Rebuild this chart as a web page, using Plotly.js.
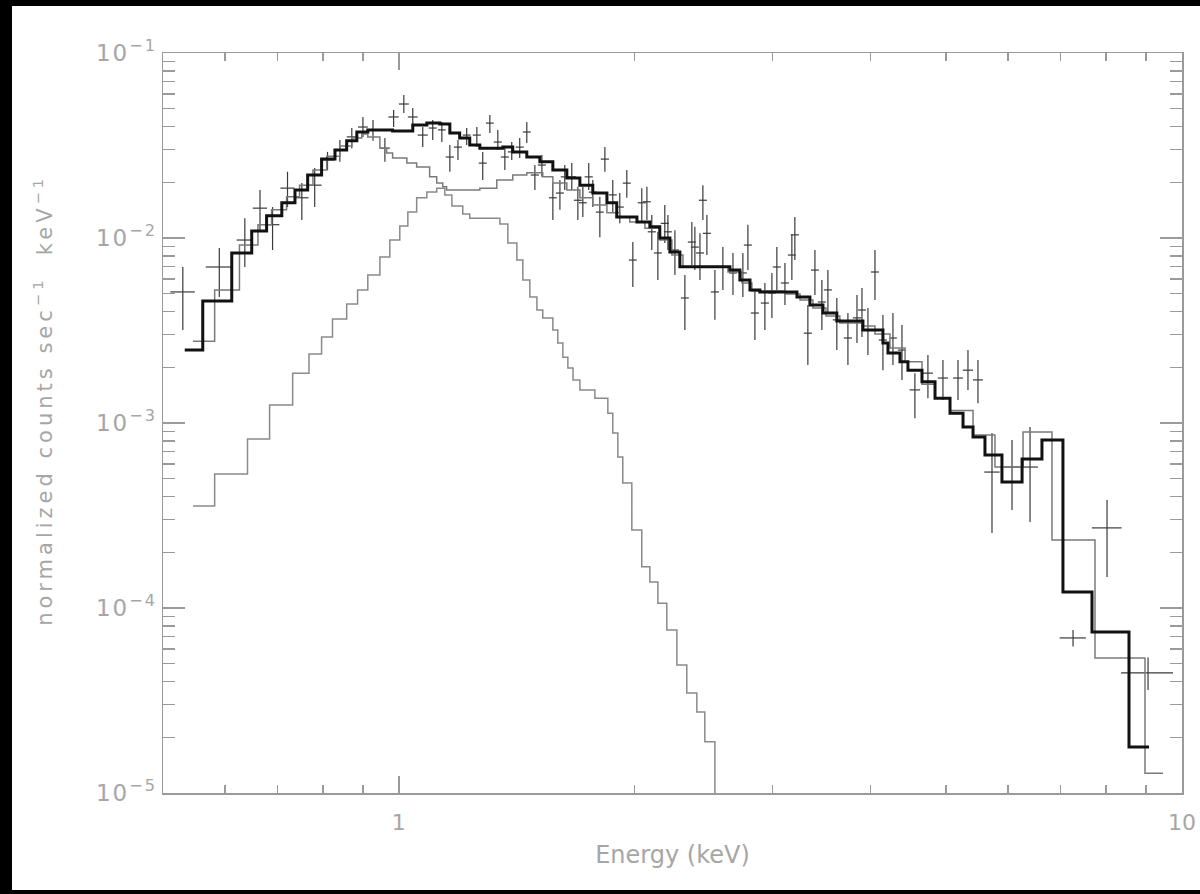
<!DOCTYPE html>
<html><head><meta charset="utf-8">
<script src="https://cdn.plot.ly/plotly-3.0.1.min.js"></script>
<style>
html,body{margin:0;padding:0;background:#000;width:1200px;height:894px;overflow:hidden;}
#chart{position:absolute;left:12px;top:6px;width:1188px;height:884px;background:#fff;}
#chart .annotation-text{letter-spacing:4px;}
#chart .ytick text{letter-spacing:2px;}
</style></head><body><div id="chart"></div>
<script>
// ---- observed spectrum (crosses) ----
const dataEnergy = [0.530,0.590,0.636,0.665,0.690,0.721,0.752,0.781,0.811,0.841,0.871,0.900,0.927,0.960,0.985,1.015,1.042,1.073,1.105,1.135,1.162,1.190,1.221,1.258,1.280,1.307,1.338,1.366,1.394,1.427,1.457,1.492,1.523,1.573,1.606,1.629,1.663,1.693,1.718,1.748,1.769,1.806,1.833,1.876,1.915,1.955,1.990,2.043,2.074,2.104,2.142,2.186,2.206,2.252,2.319,2.367,2.388,2.424,2.445,2.474,2.533,2.593,2.671,2.750,2.791,2.849,2.934,2.995,3.039,3.112,3.176,3.204,3.329,3.399,3.469,3.531,3.625,3.745,3.846,3.903,3.972,4.055,4.151,4.275,4.390,4.560,4.738,4.952,5.176,5.330,5.489,5.720,6.067,6.397,7.259,8.022,9.050];
const dataHalfWidth = [0.019,0.023,0.015,0.014,0.014,0.015,0.015,0.016,0.017,0.015,0.013,0.013,0.014,0.014,0.015,0.015,0.015,0.016,0.013,0.013,0.014,0.014,0.014,0.015,0.015,0.015,0.016,0.016,0.016,0.017,0.017,0.018,0.018,0.018,0.019,0.019,0.020,0.020,0.020,0.021,0.021,0.021,0.022,0.022,0.023,0.023,0.023,0.024,0.024,0.025,0.025,0.026,0.026,0.027,0.027,0.028,0.028,0.029,0.029,0.029,0.030,0.030,0.031,0.032,0.033,0.034,0.035,0.035,0.036,0.037,0.037,0.038,0.040,0.040,0.041,0.042,0.043,0.045,0.046,0.046,0.047,0.048,0.050,0.050,0.052,0.070,0.070,0.075,0.075,0.080,0.080,0.130,0.140,0.150,0.280,0.350,0.690];
const dataRate = [0.00511,0.00697,0.00975,0.0145,0.0118,0.0186,0.0165,0.0193,0.0264,0.0299,0.0352,0.0398,0.0384,0.0306,0.0451,0.0530,0.0451,0.0360,0.0393,0.0384,0.0274,0.0310,0.0360,0.0360,0.0254,0.0418,0.0330,0.0274,0.0292,0.0310,0.0374,0.0219,0.0248,0.0165,0.0175,0.0214,0.0214,0.0160,0.0155,0.0214,0.0177,0.0138,0.0267,0.0171,0.0147,0.0198,0.00760,0.0155,0.0157,0.0108,0.00830,0.0120,0.0108,0.00861,0.00474,0.00951,0.00893,0.00830,0.0160,0.0106,0.00511,0.00697,0.00647,0.00647,0.00916,0.00393,0.00445,0.00505,0.00697,0.00571,0.00809,0.0104,0.00306,0.00671,0.00451,0.00524,0.00361,0.00288,0.00370,0.00408,0.00318,0.00655,0.00281,0.00288,0.00248,0.00151,0.00186,0.00175,0.00175,0.00193,0.00171,0.000543,0.000578,0.000578,6.89e-5,0.000271,4.46e-5];
const dataUpper = [0.00697,0.00883,0.0128,0.0182,0.0147,0.0228,0.0198,0.0239,0.0292,0.0339,0.0393,0.0451,0.0434,0.0347,0.0492,0.0593,0.0505,0.0398,0.0434,0.0424,0.0318,0.0339,0.0393,0.0398,0.0292,0.0462,0.0384,0.0310,0.0330,0.0347,0.0424,0.0248,0.0281,0.0198,0.0206,0.0248,0.0254,0.0189,0.0189,0.0254,0.0206,0.0167,0.0310,0.0206,0.0175,0.0233,0.00951,0.0186,0.0189,0.0133,0.0108,0.0151,0.0133,0.0110,0.00631,0.0122,0.0115,0.0106,0.0193,0.0133,0.00671,0.00893,0.00830,0.00830,0.0118,0.00524,0.00571,0.00647,0.00893,0.00733,0.0104,0.0130,0.00435,0.00861,0.00593,0.00671,0.00474,0.00393,0.00492,0.00537,0.00419,0.00861,0.00384,0.00393,0.00339,0.00186,0.00233,0.00219,0.00219,0.00248,0.00219,0.000883,0.000809,0.000951,7.6e-5,0.000383,5.4e-5];
const dataLower = [0.00318,0.00480,0.00697,0.0108,0.00861,0.0147,0.0125,0.0147,0.0233,0.0258,0.0306,0.0352,0.0335,0.0258,0.0398,0.0474,0.0398,0.0310,0.0339,0.0330,0.0228,0.0264,0.0318,0.0310,0.0206,0.0370,0.0299,0.0233,0.0264,0.0271,0.0326,0.0182,0.0214,0.0125,0.0142,0.0182,0.0182,0.0125,0.0130,0.0182,0.0147,0.0101,0.0228,0.0137,0.0120,0.0165,0.00543,0.0122,0.0125,0.00861,0.00593,0.00939,0.00861,0.00631,0.00318,0.00714,0.00671,0.00593,0.0125,0.00809,0.00361,0.00524,0.00492,0.00480,0.00671,0.00281,0.00318,0.00370,0.00524,0.00435,0.00593,0.00760,0.00206,0.00492,0.00318,0.00393,0.00248,0.00206,0.00271,0.00292,0.00233,0.00462,0.00193,0.00206,0.00171,0.00106,0.00136,0.00133,0.00133,0.00151,0.00128,0.000254,0.000339,0.000292,6.2e-5,0.000147,3.6e-5];

// ---- total model (thick histogram): bin edges + bin values ----
const totalEdges = [0.533,0.562,0.612,0.649,0.678,0.709,0.737,0.765,0.797,0.829,0.858,0.884,0.913,0.982,1.042,1.086,1.128,1.162,1.196,1.232,1.269,1.358,1.398,1.457,1.514,1.573,1.639,1.703,1.769,1.844,1.898,2.014,2.092,2.154,2.219,2.285,2.647,2.726,2.808,2.891,3.224,3.349,3.480,3.625,3.914,4.151,4.213,4.364,4.468,4.656,4.838,5.056,5.253,5.410,5.603,5.890,6.249,6.625,7.047,7.675,8.557,9.077];
const totalRate = [0.00248,0.00457,0.00830,0.0109,0.0132,0.0155,0.0182,0.0219,0.0267,0.0299,0.0335,0.0374,0.0384,0.0379,0.0408,0.0418,0.0413,0.0370,0.0347,0.0318,0.0306,0.0310,0.0292,0.0274,0.0258,0.0233,0.0211,0.0193,0.0175,0.0155,0.0130,0.0122,0.0115,0.0100,0.0084,0.00700,0.00671,0.00593,0.00524,0.00511,0.00480,0.00435,0.00393,0.00356,0.00318,0.00271,0.00239,0.00214,0.00193,0.00167,0.00136,0.00113,0.000951,0.000840,0.000671,0.000480,0.000638,0.000809,0.000122,7.41e-5,1.77e-5];

// ---- second model curve (thin histogram) ----
const compBEdges = [0.546,0.582,0.626,0.661,0.688,0.719,0.747,0.777,0.809,0.841,0.871,0.897,0.913,0.946,0.965,0.982,1.024,1.054,1.095,1.118,1.138,1.151,1.269,1.334,1.398,1.457,1.527,1.573,1.639,1.703,1.769,1.844,1.915,1.972,2.062,2.154,2.232,2.306,2.632,2.743,2.824,3.112,3.253,3.379,3.511,3.657,3.903,4.055,4.238,4.430,4.656,4.838,5.056,5.410,5.770,6.267,6.823,7.743,8.969,9.457];
const compBRate = [0.00277,0.00524,0.00916,0.0118,0.0142,0.0167,0.0193,0.0233,0.0277,0.0314,0.0347,0.0365,0.0352,0.0306,0.0288,0.0271,0.0254,0.0242,0.0214,0.0198,0.0189,0.0182,0.0186,0.0206,0.0219,0.0225,0.0214,0.0198,0.0182,0.0165,0.0151,0.0137,0.0130,0.0122,0.0113,0.00975,0.00809,0.00700,0.00655,0.00571,0.00517,0.00498,0.00462,0.00419,0.00379,0.00347,0.00334,0.00303,0.00254,0.00214,0.00162,0.00136,0.00117,0.000861,0.000578,0.000893,0.000233,5.37e-5,1.28e-5];

// ---- soft component (thin histogram peaking near 1.1 keV) ----
const compAEdges = [0.546,0.582,0.641,0.684,0.732,0.768,0.797,0.823,0.858,0.886,0.913,0.946,0.974,1.003,1.027,1.054,1.086,1.118,1.145,1.169,1.207,1.232,1.346,1.378,1.415,1.440,1.470,1.501,1.527,1.573,1.596,1.620,1.644,1.669,1.703,1.780,1.849,1.876,1.904,1.932,1.984,2.043,2.092,2.142,2.199,2.265,2.332,2.402,2.459,2.533,2.608];
const compARate = [0.000356,0.000530,0.000819,0.00125,0.00186,0.00236,0.00292,0.00365,0.00440,0.00524,0.00631,0.00789,0.00975,0.0116,0.0138,0.0165,0.0177,0.0186,0.0171,0.0149,0.0135,0.0128,0.0119,0.00939,0.00760,0.00593,0.00480,0.00408,0.00370,0.00318,0.00271,0.00227,0.00198,0.00171,0.00151,0.00136,0.00113,0.000883,0.000655,0.000474,0.000264,0.000167,0.000138,0.000106,7.6e-5,4.92e-5,3.47e-5,2.74e-5,1.89e-5,1e-6];

// ---- axis ticks and titles ----
const xTickVals = [1, 10];
const xTickText = ['1', '10'];
const xMinorVals = [0.6,0.7,0.8,0.9,2,3,4,5,6,7,8,9];
const yTickVals = [1e-5, 1e-4, 1e-3, 1e-2, 1e-1];
const yTickText = ['10<sup>\u22125</sup>','10<sup>\u22124</sup>','10<sup>\u22123</sup>','10<sup>\u22122</sup>','10<sup>\u22121</sup>'];
const yMinorVals = [];
[-5,-4,-3,-2].forEach(function(d){ for (let k=2;k<=9;k++) yMinorVals.push(k*Math.pow(10,d)); });
const xTitle = 'Energy (keV)';
const yTitle = 'normalized counts sec<sup>\u22121</sup>  keV<sup>\u22121</sup>';

function stepTrace(edges, vals, color, width){
  return {x: edges, y: vals.concat([vals[vals.length-1]]), type:'scatter', mode:'lines',
    line:{shape:'hv', color:color, width:width}, hoverinfo:'skip', cliponaxis:true};
}

const traces = [
  {x:dataEnergy, y:dataRate, type:'scatter', mode:'markers',
   marker:{size:2, color:'rgba(0,0,0,0)'},
   error_x:{type:'data', array:dataHalfWidth, thickness:1.2, width:0, color:'#3a3a3a'},
   error_y:{type:'data', symmetric:false,
     array:dataUpper.map(function(u,i){return u-dataRate[i];}),
     arrayminus:dataLower.map(function(l,i){return dataRate[i]-l;}),
     thickness:1.2, width:0, color:'#3a3a3a'}},
  stepTrace(compBEdges, compBRate, '#7a7a7a', 1.5),
  stepTrace(compAEdges, compARate, '#8a8a8a', 1.5),
  stepTrace(totalEdges, totalRate, '#111111', 3)
];

const axisCol = '#9a9a9a';
const txtCol = '#a6a6a6';
const layout = {
  width:1188, height:884,
  margin:{l:151, r:18, t:47, b:97},
  paper_bgcolor:'#ffffff', plot_bgcolor:'#ffffff',
  showlegend:false,
  font:{family:'DejaVu Sans, sans-serif', color:txtCol, size:21},
  xaxis:{type:'log', range:[Math.log10(0.5), 1], tickmode:'array', tickvals:xTickVals, ticktext:xTickText,
    ticks:'inside', ticklen:17, tickwidth:1.5, tickcolor:axisCol,
    showline:true, linecolor:axisCol, linewidth:1.5, mirror:'allticks',
    showgrid:false, zeroline:false,
    minor:{tickmode:'array', tickvals:xMinorVals, ticks:'inside', ticklen:8, tickwidth:1.5, tickcolor:axisCol, showgrid:false},
    tickfont:{size:22, color:txtCol}, ticklabelstandoff:9,
    title:{text:xTitle, font:{size:24, color:txtCol}, standoff:12}},
  yaxis:{type:'log', range:[-5, -1], tickmode:'array', tickvals:yTickVals, ticktext:yTickText,
    ticks:'inside', ticklen:22, tickwidth:1.5, tickcolor:axisCol,
    showline:true, linecolor:axisCol, linewidth:1.5, mirror:'allticks',
    showgrid:false, zeroline:false,
    minor:{tickmode:'array', tickvals:yMinorVals, ticks:'inside', ticklen:12, tickwidth:1.5, tickcolor:axisCol, showgrid:false},
    tickfont:{size:23, color:txtCol}},
  annotations:[{text:yTitle, textangle:-90, xref:'paper', yref:'paper', x:-0.118, y:0.531,
    xanchor:'center', yanchor:'middle', showarrow:false, font:{size:21, color:txtCol}}]
};

Plotly.newPlot('chart', traces, layout, {displayModeBar:false, staticPlot:true});
</script></body></html>
